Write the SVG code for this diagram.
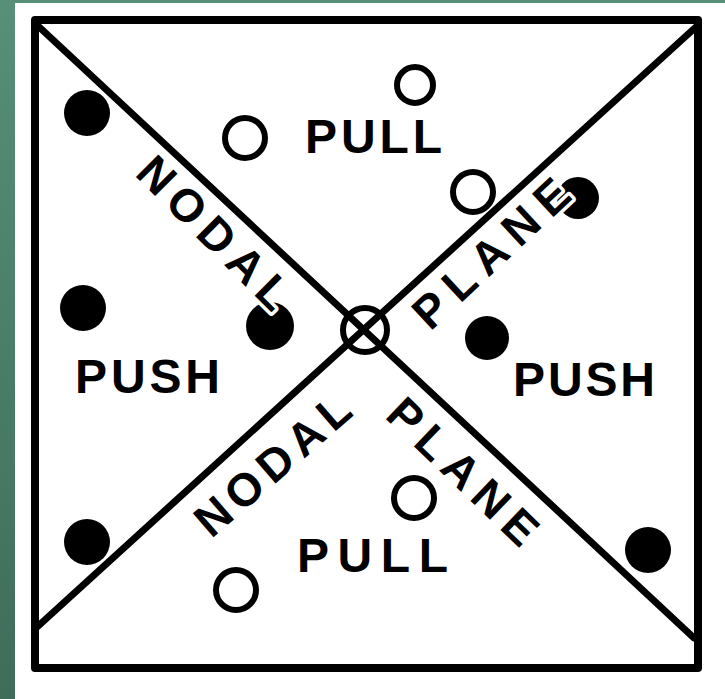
<svg xmlns="http://www.w3.org/2000/svg" width="725" height="699" viewBox="0 0 725 699">
<defs>
<linearGradient id="bg" x1="0" y1="0" x2="0" y2="1">
<stop offset="0" stop-color="#578f78"/>
<stop offset="1" stop-color="#3e6d5a"/>
</linearGradient>
</defs>
<style>
.frame{fill:none;stroke:#000;stroke-width:8;stroke-linejoin:round}
.line{fill:none;stroke:#000;stroke-width:7;stroke-linecap:round}
.dot{fill:#000}
.ring{fill:none;stroke:#000;stroke-width:6}
.lbl{font-family:"Liberation Sans",Arial,sans-serif;font-weight:bold;font-size:48px;fill:#000}
.diag{font-size:46px;text-anchor:middle}
.halo{stroke:#fff;stroke-width:7;paint-order:stroke;stroke-linejoin:round}
</style>
<rect x="0" y="0" width="725" height="699" fill="url(#bg)"/>
<rect x="15" y="3" width="710" height="696" fill="#fff"/>
<g id="frame"><rect class="frame" x="35" y="20" width="663" height="648"/></g>
<g id="connectors">
<line class="line" x1="37" y1="25" x2="694" y2="638"/>
<line class="line" x1="697" y1="26" x2="36" y2="628"/>
</g>
<g id="push-dots">
<circle class="dot" cx="87" cy="113" r="23"/>
<circle class="dot" cx="83" cy="308" r="23"/>
<circle class="dot" cx="87" cy="542" r="23"/>
<circle class="dot" cx="270" cy="326" r="24"/>
<circle class="dot" cx="578" cy="198" r="21"/>
<circle class="dot" cx="487" cy="338" r="22"/>
<circle class="dot" cx="648" cy="550" r="23"/>
</g>
<g id="pull-circles">
<circle class="ring" cx="415" cy="85" r="18"/>
<circle class="ring" cx="245" cy="138" r="20"/>
<circle class="ring" cx="473" cy="192" r="20"/>
<circle class="ring" cx="414" cy="498" r="20"/>
<circle class="ring" cx="236" cy="590" r="20"/>
</g>
<g id="center">
<circle class="ring" cx="365" cy="330" r="22"/>
</g>
<g id="labels">
<text id="pull-top" class="lbl" x="305" y="153" textLength="137" lengthAdjust="spacing">PULL</text>
<text id="pull-bottom" class="lbl" x="297" y="572" textLength="151" lengthAdjust="spacing">PULL</text>
<text id="push-left" class="lbl" x="75" y="393" textLength="145" lengthAdjust="spacing">PUSH</text>
<text id="push-right" class="lbl" x="513" y="396" textLength="142" lengthAdjust="spacing">PUSH</text>
<text id="nodal-top" class="lbl diag halo" transform="translate(203,244) rotate(45)" textLength="196" lengthAdjust="spacing">NODAL</text>
<text id="plane-top" class="lbl diag halo" transform="translate(502,265) rotate(-43)" textLength="196" lengthAdjust="spacing">PLANE</text>
<text id="nodal-bottom" class="lbl diag" transform="translate(283,477) rotate(-41)" textLength="190" lengthAdjust="spacing">NODAL</text>
<text id="plane-bottom" class="lbl diag" transform="translate(452,483) rotate(44)" textLength="190" lengthAdjust="spacing">PLANE</text>
</g>
</svg>
